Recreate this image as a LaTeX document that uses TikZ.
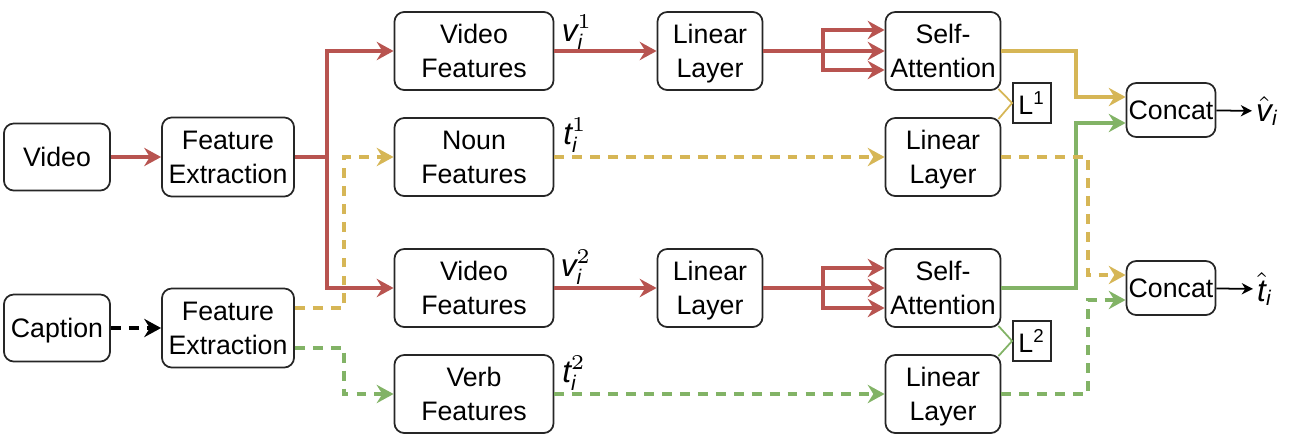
\documentclass[tikz,border=0pt]{standalone}
\usepackage{fontspec}
\setmainfont{Liberation Sans}
\usetikzlibrary{positioning,arrows.meta,calc}
\definecolor{vred}{HTML}{B85450}
\definecolor{nyel}{HTML}{D6B656}
\definecolor{vgrn}{HTML}{82B366}

\begin{document}
\begin{tikzpicture}[x=0.01cm,y=-0.01cm,
		box/.style={draw=black!85,line width=0.5pt,rounded corners=2.8pt,align=center,inner sep=0pt,text depth=0pt,font=\fontsize{7.6}{9.7}\selectfont},
		inbox/.style={box,minimum width=1.06cm,minimum height=0.67cm},
		febox/.style={box,minimum width=1.32cm,minimum height=0.79cm},
		ftbox/.style={box,minimum width=1.59cm,minimum height=0.78cm},
		llbox/.style={box,minimum width=1.05cm,minimum height=0.78cm},
		sabox/.style={box,minimum width=1.15cm,minimum height=0.78cm},
		ccbox/.style={box,minimum width=0.89cm,minimum height=0.54cm},
		lbox/.style={draw=black!85,line width=0.5pt,inner sep=0pt,minimum width=0.38cm,minimum height=0.40cm,font=\fontsize{7.6}{9}\selectfont},
		lab/.style={inner sep=1pt,font=\fontsize{9}{9}\selectfont},
		tip/.style={-{Stealth[length=4.8pt,width=5.2pt,inset=1.6pt]}},
		smalltip/.style={-{Stealth[length=3.2pt,width=3.2pt,inset=1pt]}},
		rline/.style={vred,line width=1.1pt},
		yline/.style={nyel,line width=1.1pt},
		gline/.style={vgrn,line width=1.1pt},
		ddash/.style={dash pattern=on 2.8pt off 2.3pt}]
		\useasboundingbox (0,0) rectangle (1303,442);

		\node[inbox]	(vid)	at (57,157)		{Video};
		\node[febox]	(fe1)	at (228,157)	{Feature\\Extraction};
		\node[inbox]	(cap)	at (57,328)		{Caption};
		\node[febox]	(fe2)	at (228,328)	{Feature\\Extraction};

		\node[ftbox]	(vf1)	at (474,51)		{Video\\Features};
		\node[ftbox]	(nf)	at (474,157)	{Noun\\Features};
		\node[ftbox]	(vf2)	at (474,288)	{Video\\Features};
		\node[ftbox]	(vbf)	at (474,394)	{Verb\\Features};

		\node[llbox]	(ll1)	at (710,51)		{Linear\\Layer};
		\node[llbox]	(ll2)	at (710,288)	{Linear\\Layer};

		\node[sabox]	(sa1)	at (943,51)		{Self-\\Attention};
		\node[sabox]	(ll3)	at (943,157)	{Linear\\Layer};
		\node[sabox]	(sa2)	at (943,288)	{Self-\\Attention};
		\node[sabox]	(ll4)	at (943,394)	{Linear\\Layer};

		\node[lbox]		(l1)	at (1032,103)	{L\textsuperscript{1}};
		\node[lbox]		(l2)	at (1032,341)	{L\textsuperscript{2}};

		\node[ccbox]	(c1)	at (1171,110)	{Concat};
		\node[ccbox]	(c2)	at (1171,288)	{Concat};

		\node[lab]		(v1)	at (577,32)		{$\mathit{v}_{\mathit{i}}^{1}$};
		\node[lab]		(t1)	at (575,135)	{$\mathit{t}_{\mathit{i}}^{1}$};
		\node[lab]		(v2)	at (576,267)	{$\mathit{v}_{\mathit{i}}^{2}$};
		\node[lab]		(t2)	at (574,373)	{$\mathit{t}_{\mathit{i}}^{2}$};
		\node[lab,anchor=west]	(vh)	at (1252,111)	{$\hat{\mathit{v}}_{\mathit{i}}$};
		\node[lab,anchor=west]	(th)	at (1253,289)	{$\hat{\mathit{t}}_{\mathit{i}}$};

		\coordinate (sp) at (327,157);
		\coordinate (yk) at (344,157);
		\coordinate (gk) at (344,394);
		\coordinate (b1) at (823,51);
		\coordinate (b2) at (823,288);
		\coordinate (k1) at (1076,51);
		\coordinate (k2) at (1076,288);
		\coordinate (k3) at (1088,157);
		\coordinate (k4) at (1088,394);

		\draw[rline,tip]		(vid) -- (fe1);
		\draw[black,line width=1.1pt,ddash,tip]	(cap) -- (fe2);
		\draw[rline]			(fe1) -- (sp);
		\draw[rline,tip]		(sp) |- (vf1);
		\draw[rline,tip]		(sp) |- (vf2);
		\draw[yline,ddash,tip]	($(fe2.east)+(0,-20)$) -| (yk) -- (nf);
		\draw[gline,ddash,tip]	($(fe2.east)+(0,20)$) -| (gk) -- (vbf);

		\draw[rline,tip]		(vf1) -- (ll1);
		\draw[rline,tip]		(vf2) -- (ll2);
		\draw[yline,ddash,tip]	(nf) -- (ll3);
		\draw[gline,ddash,tip]	(vbf) -- (ll4);

		\draw[rline]			(ll1) -- (b1);
		\draw[rline]			(ll2) -- (b2);
		\foreach \d in {-21,0,19}
			\draw[rline,tip]	(b1) |- ($(sa1.west)+(0,\d)$);
		\foreach \d in {-20,0,20}
			\draw[rline,tip]	(b2) |- ($(sa2.west)+(0,\d)$);

		\draw[yline,tip]		(sa1) -- (k1) |- ($(c1.west)+(0,-13)$);
		\draw[gline,tip]		(sa2) -- (k2) |- ($(c1.west)+(0,13)$);
		\draw[yline,ddash,tip]	(ll3) -- (k3) |- ($(c2.west)+(0,-13)$);
		\draw[gline,ddash,tip]	(ll4) -- (k4) |- ($(c2.west)+(0,12)$);

		\draw[nyel,line width=0.5pt]	($(sa1.south east)+(-3,-2)$) -- (l1.west) -- ($(ll3.north east)+(-3,2)$);
		\draw[vgrn,line width=0.5pt]	($(sa2.south east)+(-3,-2)$) -- (l2.west) -- ($(ll4.north east)+(-3,2)$);

		\draw[line width=0.5pt,smalltip]	(c1) -- (vh);
		\draw[line width=0.5pt,smalltip]	(c2) -- (th);
	\end{tikzpicture}
\end{document}
